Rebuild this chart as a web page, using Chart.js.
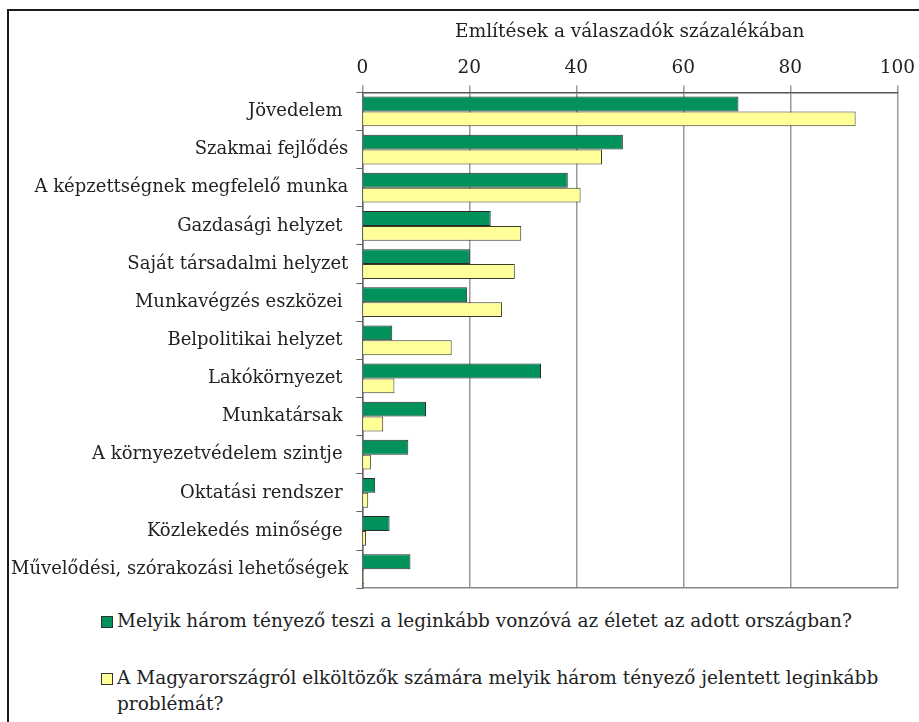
<!DOCTYPE html>
<html>
<head>
<meta charset="utf-8">
<script src="https://cdn.jsdelivr.net/npm/chart.js@4"></script>
<style>
  body { margin: 0; background: #fff; width: 919px; height: 722px; overflow: hidden; }
  #frame {
    position: absolute; left: 7px; top: 9px; width: 940px; height: 740px;
    border-left: 2px solid #1a1a1a; border-top: 2px solid #1a1a1a;
  }
  #wrap { position: absolute; left: -8px; top: 0; width: 920px; height: 596px; }
  #legend {
    position: absolute; left: 92px; top: 597px; width: 800px;
    font-family: "DejaVu Serif", serif; font-size: 18.5px; color: #222; line-height: 26px;
  }
  .item { display: flex; align-items: flex-start; margin-bottom: 31px; }
  .sw { flex: none; width: 10px; height: 10px; border: 1px solid #333; margin: 8px 4px 0 0; }
</style>
</head>
<body>
<div id="frame">
  <div id="wrap"><canvas id="chart"></canvas></div>
  <div id="legend"></div>
</div>
<script>
// categories and series
const categories = [
  'Jövedelem ',
  'Szakmai fejlődés',
  'A képzettségnek megfelelő munka',
  'Gazdasági helyzet ',
  'Saját társadalmi helyzet',
  'Munkavégzés eszközei ',
  'Belpolitikai helyzet ',
  'Lakókörnyezet ',
  'Munkatársak ',
  'A környezetvédelem szintje ',
  'Oktatási rendszer ',
  'Közlekedés minősége ',
  'Művelődési, szórakozási lehetőségek'
];
const attractive = [70.3, 48.7, 38.4, 24.0, 20.1, 19.6, 5.6, 33.4, 11.9, 8.6, 2.4, 5.1, 9.0];
const problems = [92.2, 44.8, 40.8, 29.7, 28.5, 26.1, 16.7, 6.0, 3.9, 1.6, 1.1, 0.7, 0.3];
const seriesLabels = [
  'Melyik három tényező teszi a leginkább vonzóvá az életet az adott országban?',
  'A Magyarországról elköltözők számára melyik három tényező jelentett leginkább problémát?'
];
const xTicks = [0, 20, 40, 60, 80, 100];
const axisTitle = 'Említések a válaszadók százalékában';

const serif = '"DejaVu Serif", serif';

// legend in HTML so the long second label can wrap under itself
const htmlLegend = {
  id: 'htmlLegend',
  afterUpdate(chart) {
    const box = document.getElementById('legend');
    box.innerHTML = '';
    chart.data.datasets.forEach(ds => {
      const row = document.createElement('div');
      row.className = 'item';
      const sw = document.createElement('span');
      sw.className = 'sw';
      sw.style.background = ds.backgroundColor;
      const txt = document.createElement('span');
      txt.textContent = ds.label;
      row.appendChild(sw);
      row.appendChild(txt);
      box.appendChild(row);
    });
  }
};

new Chart(document.getElementById('chart'), {
  type: 'bar',
  data: {
    labels: categories,
    datasets: [
      {
        label: seriesLabels[0],
        data: attractive,
        backgroundColor: '#00925a',
        borderColor: '#2b2b2b',
        borderWidth: 1,
        categoryPercentage: 0.78,
        barPercentage: 1
      },
      {
        label: seriesLabels[1],
        data: problems,
        backgroundColor: '#ffff99',
        borderColor: '#3a3a2a',
        borderWidth: 1,
        categoryPercentage: 0.78,
        barPercentage: 1
      }
    ]
  },
  options: {
    indexAxis: 'y',
    responsive: true,
    maintainAspectRatio: false,
    animation: false,
    layout: { padding: { left: 2, right: 10, top: 10, bottom: 0 } },
    plugins: {
      legend: { display: false },
      tooltip: { enabled: false }
    },
    scales: {
      x: {
        position: 'top',
        min: 0,
        max: 100,
        afterBuildTicks: axis => { axis.ticks = xTicks.map(v => ({ value: v })); },
        ticks: { font: { family: serif, size: 18.5 }, color: '#222', padding: 6 },
        grid: { color: '#9a9a9a', lineWidth: 1.5, tickLength: 7 },
        border: { color: '#555', width: 1.5 },
        title: {
          display: true,
          text: axisTitle,
          font: { family: serif, size: 18.5 },
          color: '#222',
          padding: { top: 0, bottom: 8 }
        }
      },
      xb: {
        position: 'bottom',
        min: 0,
        max: 100,
        ticks: { display: false },
        grid: { display: false },
        border: { color: '#888', width: 1.5 }
      },
      y: {
        ticks: { font: { family: serif, size: 18 }, color: '#222', padding: 8 },
        grid: { drawOnChartArea: false, color: '#666', tickLength: 6, offset: true },
        border: { color: '#666', width: 1.5 }
      }
    }
  },
  plugins: [htmlLegend]
});
</script>
</body>
</html>
